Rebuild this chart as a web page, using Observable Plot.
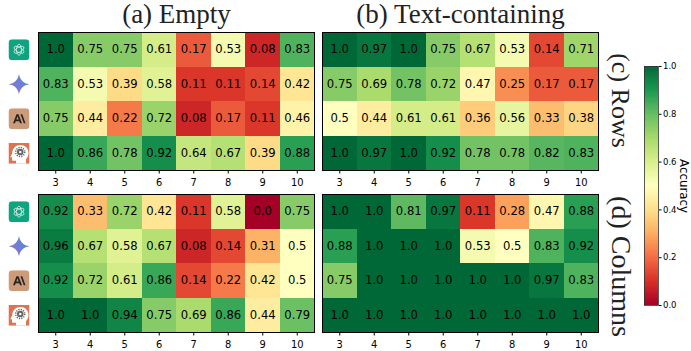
<!DOCTYPE html>
<html><head><meta charset="utf-8">
<script src="https://cdn.jsdelivr.net/npm/d3@7"></script>
<script src="https://cdn.jsdelivr.net/npm/@observablehq/plot@0.6"></script>
<style>
html,body{margin:0;padding:0;background:#fff;width:691px;height:351px;overflow:hidden}
#chart{position:relative;width:691px;height:351px}
#chart svg{position:absolute;overflow:visible;background:transparent}
</style></head><body><div id="chart"></div>
<script>
const sizes = [3,4,5,6,7,8,9,10];
const models = ["GPT","Gemini","Claude","Human"];

const emptyRowsGPT    = [1.0,0.75,0.75,0.61,0.17,0.53,0.08,0.83];
const emptyRowsGemini = [0.83,0.53,0.39,0.58,0.11,0.11,0.14,0.42];
const emptyRowsClaude = [0.75,0.44,0.22,0.72,0.08,0.17,0.11,0.46];
const emptyRowsHuman  = [1.0,0.86,0.78,0.92,0.64,0.67,0.39,0.88];

const textRowsGPT     = [1.0,0.97,1.0,0.75,0.67,0.53,0.14,0.71];
const textRowsGemini  = [0.75,0.69,0.78,0.72,0.47,0.25,0.17,0.17];
const textRowsClaude  = [0.5,0.44,0.61,0.61,0.36,0.56,0.33,0.38];
const textRowsHuman   = [1.0,0.97,1.0,0.92,0.78,0.78,0.82,0.83];

const emptyColsGPT    = [0.92,0.33,0.72,0.42,0.11,0.58,0.0,0.75];
const emptyColsGemini = [0.96,0.67,0.58,0.67,0.08,0.14,0.31,0.5];
const emptyColsClaude = [0.92,0.72,0.61,0.86,0.14,0.22,0.42,0.5];
const emptyColsHuman  = [1.0,1.0,0.94,0.75,0.69,0.86,0.44,0.79];

const textColsGPT     = [1.0,1.0,0.81,0.97,0.11,0.28,0.47,0.88];
const textColsGemini  = [0.88,1.0,1.0,1.0,0.53,0.5,0.83,0.92];
const textColsClaude  = [0.75,1.0,1.0,1.0,1.0,1.0,0.97,0.83];
const textColsHuman   = [1.0,1.0,1.0,1.0,1.0,1.0,1.0,1.0];

const colorStops = [0,.1,.2,.3,.4,.5,.6,.7,.8,.9,1];
const colorRange = ["#a50026","#d73027","#f46d43","#fdae61","#fee08b","#ffffbf","#d9ef8b","#a6d96a","#66bd63","#1a9850","#006837"];
const colorTicks = [0,0.2,0.4,0.6,0.8,1];

const svgUri = s => "data:image/svg+xml;utf8," + encodeURIComponent(`<svg xmlns="http://www.w3.org/2000/svg" viewBox="0 0 42 42">${s}</svg>`);
const icons = {
  GPT: svgUri(`<rect x="0" y="0" width="42" height="42" rx="8" fill="#10a37f"/>
    <g fill="none" stroke="#fff" stroke-width="1.5" opacity=".85">
    <ellipse cx="21" cy="21" rx="5" ry="11"/><ellipse cx="21" cy="21" rx="5" ry="11" transform="rotate(60 21 21)"/><ellipse cx="21" cy="21" rx="5" ry="11" transform="rotate(120 21 21)"/></g>`),
  Gemini: svgUri(`<defs><linearGradient id="g" x1="0" y1="1" x2="1" y2="0"><stop offset="0" stop-color="#a06fc8"/><stop offset=".55" stop-color="#6b7fd8"/><stop offset="1" stop-color="#3f9be8"/></linearGradient></defs>
    <path d="M21 0C22.5 12 30 19.5 42 21C30 22.5 22.5 30 21 42C19.5 30 12 22.5 0 21C12 19.5 19.5 12 21 0Z" fill="url(#g)"/>`),
  Claude: svgUri(`<rect x="0" y="0" width="42" height="42" rx="8" fill="#cc9b7a"/>
    <path d="M9 30L16 12H20L27 30H23L21.5 26H14.5L13 30ZM15.8 22.5H20.2L18 16Z" fill="#2b2320"/>
    <path d="M24 12H27.5L34 30H30.5Z" fill="#2b2320"/>`),
  Human: svgUri(`<rect x="0" y="0" width="42" height="42" fill="#dd7350"/>
    <path d="M15 42V36H9C7.5 36 7 35 7 33.5V29H3.5L7.5 21C7.5 11 15 4.5 24 4.5C33 4.5 40 11 40 20C40 26 38 30 35 33V42Z" fill="#fff"/>
    <circle cx="23.5" cy="18.5" r="6.5" fill="#666"/>
    <circle cx="23.5" cy="18.5" r="9" fill="none" stroke="#666" stroke-width="3" stroke-dasharray="2.4 2.3"/>
    <circle cx="23.5" cy="18.5" r="2.5" fill="#fff"/>`)
};

const sans = "DejaVu Sans";
const serif = "Liberation Serif";
const fmt = v => Number.isInteger(v) ? v.toFixed(1) : String(v);
const colorOpt = {type:"linear", domain:colorStops, range:colorRange, interpolate:"rgb"};

const fL=38, fT=32, fW=276, fH=138;

function panel({rows, left, top, title, side, sideSize, sideDy, icon}) {
  const data = rows.flatMap((r,i)=>r.map((v,j)=>({size:sizes[j], model:models[i], v})));
  const marks = [
    Plot.cell(data,{x:"size",y:"model",fill:"v",shapeRendering:"crispEdges"}),
    Plot.text(data,{x:"size",y:"model",text:d=>fmt(d.v),fill:"#000",fontSize:11.6,fontFamily:sans}),
    Plot.frame({stroke:"#000",strokeWidth:1}),
    Plot.axisX({tickSize:3.5,tickPadding:4.5,fontSize:9.9,fontFamily:sans,color:"#000",label:null})
  ];
  if (title) marks.push(Plot.text([title],{frameAnchor:"top",dy:-10,lineAnchor:"bottom",fontFamily:serif,fontSize:27,fill:"#222"}));
  if (side) marks.push(Plot.text([side],{frameAnchor:"right",dx:22,dy:sideDy,rotate:90,textAnchor:"middle",fontFamily:serif,fontSize:sideSize,fill:"#222"}));
  if (icon) marks.push(Plot.image(models,{y:d=>d,frameAnchor:"left",dx:-19.5,width:21,height:21,src:d=>icons[d]}));
  const p = Plot.plot({
    width:fL+fW+1, height:fT+fH+30,
    marginLeft:fL, marginRight:1, marginTop:fT, marginBottom:30,
    x:{type:"band",domain:sizes,padding:0,round:false,axis:null},
    y:{type:"band",domain:models,padding:0,round:false,axis:null},
    color:colorOpt,
    style:{background:"transparent"},
    marks
  });
  p.style.left = left+"px"; p.style.top = top+"px";
  document.getElementById("chart").append(p);
}
panel({rows:[emptyRowsGPT,emptyRowsGemini,emptyRowsClaude,emptyRowsHuman],left:0,top:0,title:"(a) Empty",icon:true});
panel({rows:[textRowsGPT,textRowsGemini,textRowsClaude,textRowsHuman],left:284,top:0,title:"(b) Text-containing",side:"(c) Rows",sideSize:26,sideDy:-1});
panel({rows:[emptyColsGPT,emptyColsGemini,emptyColsClaude,emptyColsHuman],left:0,top:162,icon:true});
panel({rows:[textColsGPT,textColsGemini,textColsClaude,textColsHuman],left:284,top:162,side:"(d) Columns",sideSize:28,sideDy:3});

const barSteps = d3.range(0,200).map(i=>i/200);
const bar = Plot.plot({
  width:60, height:260, marginLeft:0, marginRight:46, marginTop:10, marginBottom:11,
  x:{domain:[0,1],axis:null},
  y:{domain:[0,1],axis:null},
  color:colorOpt,
  style:{background:"transparent"},
  marks:[
    Plot.rect(barSteps,{x1:0,x2:1,y1:d=>d,y2:d=>d+0.005,fill:d=>d+0.0025,shapeRendering:"crispEdges"}),
    Plot.frame({stroke:"#333",strokeWidth:0.8}),
    Plot.axisY({anchor:"right",ticks:colorTicks,tickFormat:d3.format(".1f"),tickSize:2.5,tickPadding:2,fontSize:8.5,fontFamily:sans,color:"#000",label:null}),
    Plot.text(["Accuracy"],{frameAnchor:"right",dx:25,rotate:90,textAnchor:"middle",fontFamily:sans,fontSize:11.8,fill:"#000"})
  ]
});
bar.style.left="644px"; bar.style.top="56px";
document.getElementById("chart").append(bar);
</script></body></html>
